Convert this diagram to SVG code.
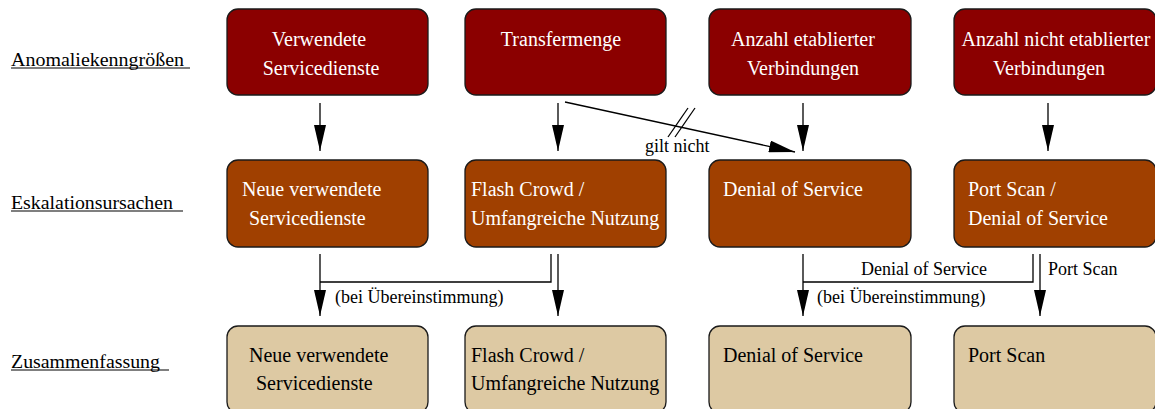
<svg xmlns="http://www.w3.org/2000/svg" width="1155" height="409" viewBox="0 0 1155 409" font-family="Liberation Serif, Times New Roman, serif">
<style>
  .box { stroke: #1a1a1a; stroke-width: 1.3; }
  .r1 { fill: #8b0000; }
  .r2 { fill: #a04000; }
  .r3 { fill: #ddc9a3; }
  .t { font-size: 20px; }
  .w { fill: #ffffff; }
  .k { fill: #000000; }
  .c { text-anchor: middle; }
  .lbl { font-size: 18px; fill: #000; }
  .cl { font-size: 18px; fill: #000; }
  .ln { stroke: #000; stroke-width: 1.3; fill: none; }
  .ul { stroke: #000; stroke-width: 1.2; }
</style>
<defs>
  <marker id="ah" markerUnits="userSpaceOnUse" markerWidth="26" markerHeight="12" refX="26" refY="6" orient="auto">
    <path d="M0,0 L26,6 L0,12 z" fill="#000"/>
  </marker>
</defs>
<rect width="1155" height="409" fill="#ffffff"/>

<g id="labels">
  <text class="lbl" x="11" y="66" textLength="173" lengthAdjust="spacingAndGlyphs">Anomaliekenngrößen</text>
  <line class="ul" x1="11" y1="68" x2="190" y2="68"/>
  <text class="lbl" x="11" y="209" textLength="162" lengthAdjust="spacingAndGlyphs">Eskalationsursachen</text>
  <line class="ul" x1="11" y1="211" x2="183" y2="211"/>
  <text class="lbl" x="11" y="368" textLength="149" lengthAdjust="spacingAndGlyphs">Zusammenfassung</text>
  <line class="ul" x1="11" y1="370" x2="169" y2="370"/>
</g>

<g id="n-verwendete">
  <rect class="box r1" x="227" y="9" width="201" height="86" rx="11"/>
  <text class="t w c" x="319" y="46">Verwendete</text>
  <text class="t w c" x="321" y="75">Servicedienste</text>
</g>
<g id="n-transfermenge">
  <rect class="box r1" x="465" y="9" width="201" height="86" rx="11"/>
  <text class="t w c" x="561" y="46">Transfermenge</text>
</g>
<g id="n-etabliert">
  <rect class="box r1" x="709" y="9" width="202" height="86" rx="11"/>
  <text class="t w c" x="803" y="46">Anzahl etablierter</text>
  <text class="t w c" x="803" y="75">Verbindungen</text>
</g>
<g id="n-nichtetabliert">
  <rect class="box r1" x="954" y="9" width="202" height="86" rx="11"/>
  <text class="t w c" x="1056" y="46">Anzahl nicht etablierter</text>
  <text class="t w c" x="1049" y="75">Verbindungen</text>
</g>

<g id="e-neue">
  <rect class="box r2" x="227" y="160" width="201" height="87" rx="11"/>
  <text class="t w" x="242" y="196">Neue verwendete</text>
  <text class="t w" x="249" y="225">Servicedienste</text>
</g>
<g id="e-flash">
  <rect class="box r2" x="465" y="160" width="201" height="87" rx="11"/>
  <text class="t w" x="471" y="196">Flash Crowd /</text>
  <text class="t w" x="471" y="225">Umfangreiche Nutzung</text>
</g>
<g id="e-dos">
  <rect class="box r2" x="709" y="160" width="202" height="87" rx="11"/>
  <text class="t w" x="723" y="196">Denial of Service</text>
</g>
<g id="e-portscan">
  <rect class="box r2" x="954" y="160" width="202" height="87" rx="11"/>
  <text class="t w" x="968" y="196">Port Scan /</text>
  <text class="t w" x="968" y="225">Denial of Service</text>
</g>

<g id="z-neue">
  <rect class="box r3" x="227" y="326" width="201" height="87" rx="11"/>
  <text class="t k" x="249" y="362">Neue verwendete</text>
  <text class="t k" x="256" y="390">Servicedienste</text>
</g>
<g id="z-flash">
  <rect class="box r3" x="465" y="326" width="201" height="87" rx="11"/>
  <text class="t k" x="471" y="362">Flash Crowd /</text>
  <text class="t k" x="471" y="390">Umfangreiche Nutzung</text>
</g>
<g id="z-dos">
  <rect class="box r3" x="709" y="326" width="202" height="87" rx="11"/>
  <text class="t k" x="723" y="362">Denial of Service</text>
</g>
<g id="z-portscan">
  <rect class="box r3" x="954" y="326" width="202" height="87" rx="11"/>
  <text class="t k" x="968" y="362">Port Scan</text>
</g>

<g id="connectors">
  <line class="ln" x1="320" y1="103" x2="320" y2="151" marker-end="url(#ah)"/>
  <line class="ln" x1="558" y1="103" x2="558" y2="151" marker-end="url(#ah)"/>
  <line class="ln" x1="803" y1="103" x2="803" y2="151" marker-end="url(#ah)"/>
  <line class="ln" x1="1048" y1="103" x2="1048" y2="151" marker-end="url(#ah)"/>
  <line class="ln" x1="565" y1="102" x2="795" y2="152" marker-end="url(#ah)"/>
  <line class="ln" x1="668" y1="137" x2="688" y2="108"/>
  <line class="ln" x1="675" y1="137" x2="695" y2="108"/>
  <text class="cl" x="645" y="152">gilt nicht</text>

  <line class="ln" x1="320" y1="254" x2="320" y2="316" marker-end="url(#ah)"/>
  <polyline class="ln" points="320,282 551,282 551,254"/>
  <line class="ln" x1="558" y1="254" x2="558" y2="316" marker-end="url(#ah)"/>
  <text class="cl" x="335" y="303">(bei Übereinstimmung)</text>

  <line class="ln" x1="803" y1="254" x2="803" y2="316" marker-end="url(#ah)"/>
  <polyline class="ln" points="803,282 1033,282 1033,254"/>
  <line class="ln" x1="1040" y1="254" x2="1040" y2="316" marker-end="url(#ah)"/>
  <text class="cl" x="861" y="275">Denial of Service</text>
  <text class="cl" x="1048" y="275">Port Scan</text>
  <text class="cl" x="817" y="303">(bei Übereinstimmung)</text>
</g>
</svg>
